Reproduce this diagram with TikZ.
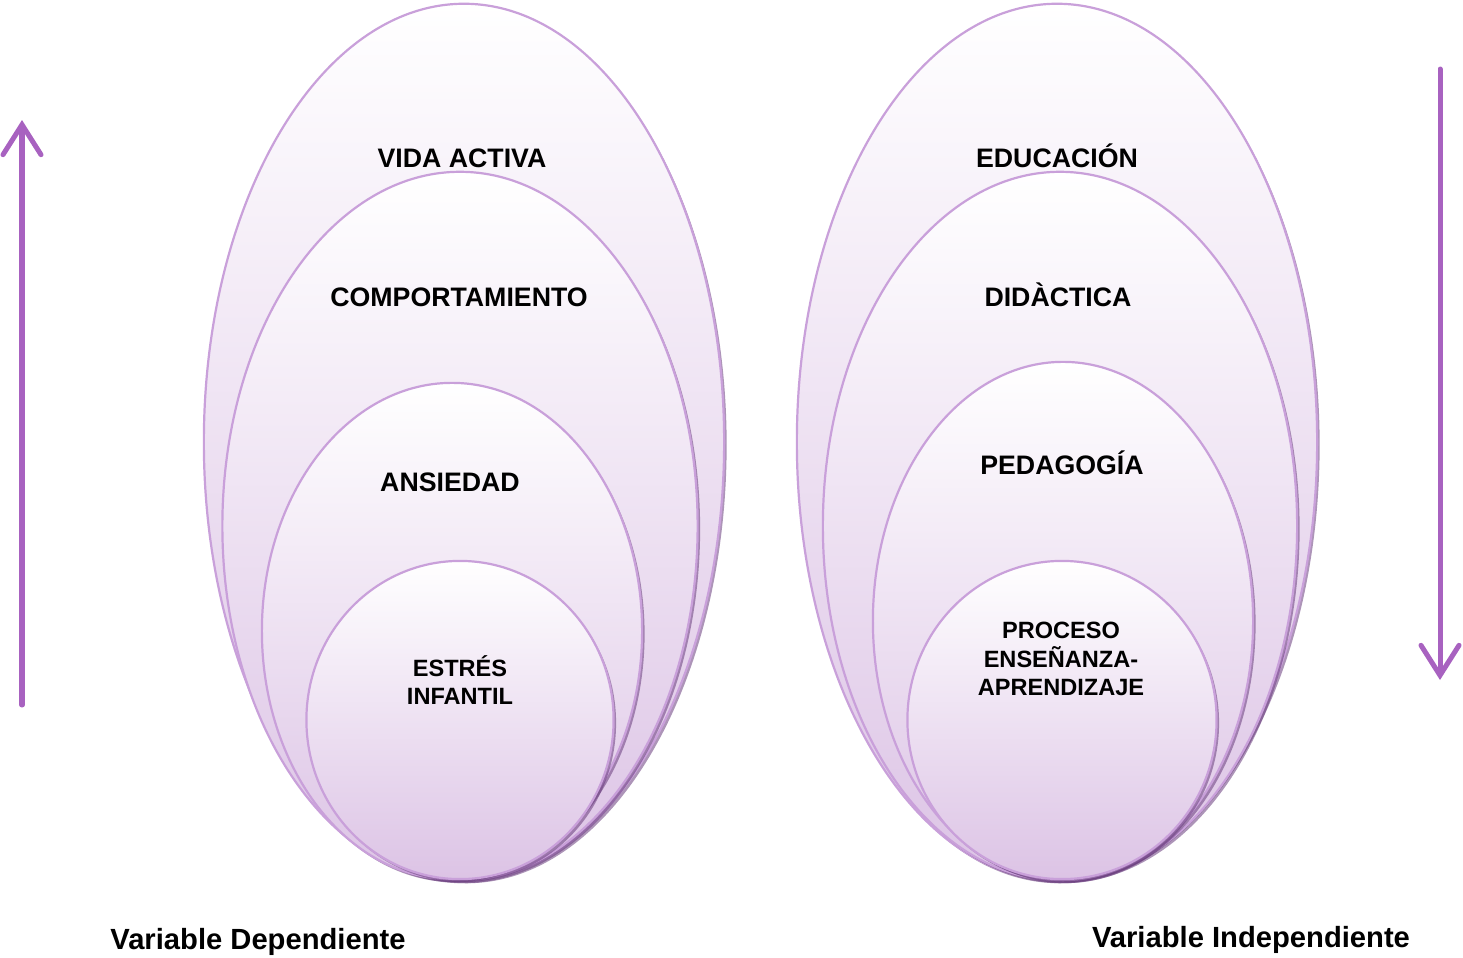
\documentclass[tikz,border=0pt]{standalone}
\usepackage{fontspec}
\setmainfont{Liberation Sans}
\usetikzlibrary{shapes.geometric, shadows, arrows.meta, positioning}

\definecolor{lila}{RGB}{201,160,218}
\definecolor{lilafondo}{RGB}{220,195,229}
\definecolor{lilaflecha}{RGB}{168,98,192}
\definecolor{lilasombra}{RGB}{105,60,125}

\begin{document}
\begin{tikzpicture}[
		x=0.01cm, y=-0.01cm,
		capa/.style={ellipse, draw=lila, line width=0.022cm, inner sep=0pt,
			top color=white, bottom color=lilafondo,
			drop shadow={shadow xshift=0.025cm, shadow yshift=-0.03cm, fill=lilasombra, opacity=0.55}},
		etiqueta/.style={font=\bfseries\fontsize{7.6}{9}\selectfont, align=center, inner sep=0pt},
		chica/.style={font=\bfseries\fontsize{6.7}{8.1}\selectfont, align=center, inner sep=0pt},
		rotulo/.style={font=\bfseries\fontsize{8.3}{10}\selectfont, inner sep=0pt},
		flecha/.style={draw=lilaflecha, line width=0.05cm, line cap=round,
			-{Straight Barb[length=0.3cm, width=0.38cm, line cap=round]}}
		]
		
		\useasboundingbox (0,0) rectangle (1463,957);
		
		% ==========================================
		% LEFT SET (Dependent variable)
		% ==========================================
		\node[capa, minimum width=5.20cm, minimum height=8.76cm] (vida) at (464,442) {};
		\node[capa, minimum width=4.75cm, minimum height=7.08cm] (comp) at (460,526) {};
		\node[capa, minimum width=3.80cm, minimum height=4.96cm] (ans) at (452,631) {};
		\node[capa, minimum width=3.07cm, minimum height=3.18cm] (estres) at (460,720) {};
		
		\node[etiqueta] (tvida) at (462,158) {VIDA ACTIVA};
		\node[etiqueta] (tcomp) at (459,297) {COMPORTAMIENTO};
		\node[etiqueta] (tans) at (450,482) {ANSIEDAD};
		\node[chica] (testres) at (460,680) {ESTRÉS\\INFANTIL};
		
		% ==========================================
		% RIGHT SET (Independent variable)
		% ==========================================
		\node[capa, minimum width=5.20cm, minimum height=8.76cm] (edu) at (1057,442) {};
		\node[capa, minimum width=4.74cm, minimum height=7.08cm] (did) at (1060,526) {};
		\node[capa, minimum width=3.80cm, minimum height=5.18cm] (ped) at (1063,621) {};
		\node[capa, minimum width=3.09cm, minimum height=3.18cm] (proc) at (1062,720) {};
		
		\node[etiqueta] (tedu) at (1057,156) {EDUCACIÓN};
		\node[etiqueta] (tdid) at (1058,295) {DIDÀCTICA};
		\node[etiqueta] (tped) at (1062,463) {PEDAGOGÍA};
		\node[chica] (tproc) at (1061,659) {PROCESO\\ENSEÑANZA-\\APRENDIZAJE};
		
		% ==========================================
		% ARROWS
		% ==========================================
		\coordinate (subeA) at (22,705);
		\coordinate (subeB) at (22,120);
		\coordinate (bajaA) at (1440,69);
		\coordinate (bajaB) at (1440,680);
		\draw[flecha] (subeA) -- (subeB);
		\draw[flecha] (bajaA) -- (bajaB);
		
		% ==========================================
		% VARIABLE LABELS
		% ==========================================
		\node[rotulo] (dep) at (258,942) {Variable Dependiente};
		\node[rotulo] (indep) at (1251,940) {Variable Independiente};
		
	\end{tikzpicture}
\end{document}
